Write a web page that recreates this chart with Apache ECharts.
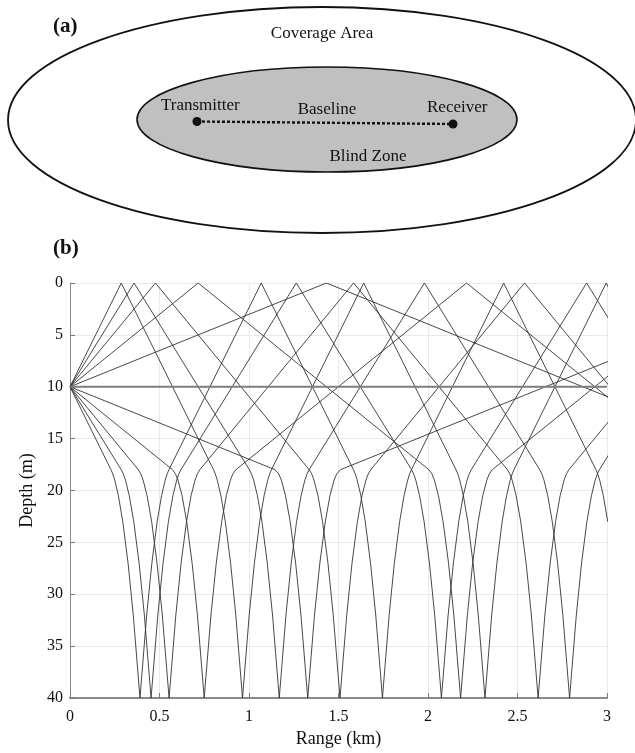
<!DOCTYPE html>
<html>
<head>
<meta charset="utf-8">
<title>Blind zone and ray paths</title>
<script src="https://cdn.jsdelivr.net/npm/echarts@6.0.0/dist/echarts.min.js"></script>
<style>
  html, body { margin: 0; padding: 0; background: #fff; }
  #chart { width: 635px; height: 753px; }
</style>
</head>
<body>
<div id="chart"></div>
<script>
// (b) ray paths, [range km, depth m], source at 10 m
// launch angles +-2.0, 1.6, 1.2, 0.8, 0.4 deg, surface / bottom reflections
const rayFlat = [[0, 10], [3, 10]];

const rayDown1 = [
  [0, 10], [0.2291, 18], [0.2389, 18.4], [0.2500, 19], [0.2703, 20.5], [0.2949, 23], [0.3244, 27], [0.3534, 32], [0.3909, 40],
  [0.4284, 32], [0.4574, 27], [0.4869, 23], [0.5115, 20.5], [0.5318, 19], [0.5429, 18.4], [0.5527, 18],
  [1.0682, 0], [1.5837, 18],
  [1.5935, 18.4], [1.6046, 19], [1.6249, 20.5], [1.6495, 23], [1.6790, 27], [1.7080, 32], [1.7455, 40],
  [1.7830, 32], [1.8120, 27], [1.8415, 23], [1.8661, 20.5], [1.8864, 19], [1.8975, 18.4], [1.9073, 18],
  [2.4228, 0], [2.9383, 18],
  [2.9481, 18.4], [2.9592, 19], [2.9795, 20.5], [3.0041, 23]
];
const rayDown2 = [
  [0, 10], [0.2864, 18], [0.2978, 18.4], [0.3099, 19], [0.3311, 20.5], [0.3563, 23], [0.3861, 27], [0.4154, 32], [0.4530, 40],
  [0.4906, 32], [0.5199, 27], [0.5497, 23], [0.5749, 20.5], [0.5961, 19], [0.6082, 18.4], [0.6196, 18],
  [1.2640, 0], [1.9084, 18],
  [1.9198, 18.4], [1.9319, 19], [1.9531, 20.5], [1.9783, 23], [2.0081, 27], [2.0374, 32], [2.0750, 40],
  [2.1126, 32], [2.1419, 27], [2.1717, 23], [2.1969, 20.5], [2.2181, 19], [2.2302, 18.4], [2.2416, 18],
  [2.8860, 0], [3.5304, 18]
];
const rayDown3 = [
  [0, 10], [0.3819, 18], [0.3955, 18.4], [0.4085, 19], [0.4306, 20.5], [0.4561, 23], [0.4863, 27], [0.5157, 32], [0.5535, 40],
  [0.5913, 32], [0.6207, 27], [0.6509, 23], [0.6764, 20.5], [0.6985, 19], [0.7115, 18.4], [0.7251, 18],
  [1.5844, 0], [2.4437, 18],
  [2.4573, 18.4], [2.4703, 19], [2.4924, 20.5], [2.5179, 23], [2.5481, 27], [2.5775, 32], [2.6153, 40],
  [2.6531, 32], [2.6825, 27], [2.7127, 23], [2.7382, 20.5], [2.7603, 19], [2.7733, 18.4], [2.7869, 18],
  [3.6462, 0]
];
const rayDown4 = [
  [0, 10], [0.5729, 18], [0.5894, 18.4], [0.6033, 19], [0.6260, 20.5], [0.6519, 23], [0.6823, 27], [0.7118, 32], [0.7497, 40],
  [0.7876, 32], [0.8171, 27], [0.8475, 23], [0.8734, 20.5], [0.8961, 19], [0.9100, 18.4], [0.9265, 18],
  [2.2156, 0], [3.5047, 18]
];
const rayDown5 = [
  [0, 10], [1.1460, 18], [1.1663, 18.4], [1.1808, 19], [1.2039, 20.5], [1.2300, 23], [1.2605, 27], [1.2902, 32], [1.3281, 40],
  [1.3660, 32], [1.3957, 27], [1.4262, 23], [1.4523, 20.5], [1.4754, 19], [1.4899, 18.4], [1.5102, 18],
  [4.0887, 0]
];

const rayUp1 = [
  [0, 10], [0.2864, 0], [0.8019, 18],
  [0.8117, 18.4], [0.8228, 19], [0.8431, 20.5], [0.8677, 23], [0.8972, 27], [0.9262, 32], [0.9637, 40],
  [1.0012, 32], [1.0302, 27], [1.0597, 23], [1.0843, 20.5], [1.1046, 19], [1.1157, 18.4], [1.1255, 18],
  [1.6410, 0], [2.1565, 18],
  [2.1663, 18.4], [2.1774, 19], [2.1977, 20.5], [2.2223, 23], [2.2518, 27], [2.2808, 32], [2.3183, 40],
  [2.3558, 32], [2.3848, 27], [2.4143, 23], [2.4389, 20.5], [2.4592, 19], [2.4703, 18.4], [2.4801, 18],
  [2.9956, 0], [3.5111, 18]
];
const rayUp2 = [
  [0, 10], [0.3580, 0], [1.0024, 18],
  [1.0138, 18.4], [1.0259, 19], [1.0471, 20.5], [1.0723, 23], [1.1021, 27], [1.1314, 32], [1.1690, 40],
  [1.2066, 32], [1.2359, 27], [1.2657, 23], [1.2909, 20.5], [1.3121, 19], [1.3242, 18.4], [1.3356, 18],
  [1.9800, 0], [2.6244, 18],
  [2.6358, 18.4], [2.6479, 19], [2.6691, 20.5], [2.6943, 23], [2.7241, 27], [2.7534, 32], [2.7910, 40],
  [2.8286, 32], [2.8579, 27], [2.8877, 23], [2.9129, 20.5], [2.9341, 19], [2.9462, 18.4], [2.9576, 18],
  [3.6020, 0]
];
const rayUp3 = [
  [0, 10], [0.4774, 0], [1.3367, 18],
  [1.3503, 18.4], [1.3633, 19], [1.3854, 20.5], [1.4109, 23], [1.4411, 27], [1.4705, 32], [1.5083, 40],
  [1.5461, 32], [1.5755, 27], [1.6057, 23], [1.6312, 20.5], [1.6533, 19], [1.6663, 18.4], [1.6799, 18],
  [2.5392, 0], [3.3985, 18]
];
const rayUp4 = [
  [0, 10], [0.7162, 0], [2.0053, 18],
  [2.0218, 18.4], [2.0357, 19], [2.0584, 20.5], [2.0843, 23], [2.1147, 27], [2.1442, 32], [2.1821, 40],
  [2.2200, 32], [2.2495, 27], [2.2799, 23], [2.3058, 20.5], [2.3285, 19], [2.3424, 18.4], [2.3589, 18],
  [3.6480, 0]
];
const rayUp5 = [[0, 10], [1.4325, 0], [4.0110, 18]];

const rays = [rayDown1, rayDown2, rayDown3, rayDown4, rayDown5, rayUp1, rayUp2, rayUp3, rayUp4, rayUp5];

// (a) schematic labels
const panelLabels = ['(a)', '(b)'];
const zoneLabels = ['Coverage Area', 'Blind Zone'];
const nodeLabels = ['Transmitter', 'Baseline', 'Receiver'];

const FONT = '"Liberation Serif", "Times New Roman", serif';
const INK = '#111';

const chart = echarts.init(document.getElementById('chart'), null, { renderer: 'canvas' });

function label(text, x, y, size, align, bold) {
  return {
    type: 'text', x: x, y: y, z: 10,
    style: {
      text: text, fill: INK, align: align, verticalAlign: 'middle',
      font: (bold ? 'bold ' : '') + size + 'px ' + FONT
    }
  };
}

const raySeries = rays.map(r => ({
  type: 'line',
  data: r,
  showSymbol: false,
  symbol: 'none',
  clip: true,
  silent: true,
  lineStyle: { color: '#333', width: 0.9 }
}));

raySeries.push({
  type: 'line',
  data: rayFlat,
  showSymbol: false,
  symbol: 'none',
  silent: true,
  z: 3,
  lineStyle: { color: '#7f7f7f', width: 2 }
});

chart.setOption({
  animation: false,
  backgroundColor: '#fff',
  grid: { left: 70, top: 283, right: 28, bottom: 48, containLabel: false },
  xAxis: {
    type: 'value',
    min: 0, max: 3, interval: 0.5,
    name: 'Range (km)',
    nameLocation: 'middle',
    nameGap: 32,
    nameTextStyle: { fontFamily: FONT, fontSize: 18, color: INK },
    axisLine: { show: true, onZero: false, lineStyle: { color: '#8a8a8a', width: 2 } },
    axisTick: { show: true, inside: true, length: 5, lineStyle: { color: '#777' } },
    axisLabel: { fontFamily: FONT, fontSize: 16, color: INK, margin: 11 },
    splitLine: { show: true, lineStyle: { color: '#e9e9e9', width: 1 } }
  },
  yAxis: {
    type: 'value',
    inverse: true,
    min: 0, max: 40, interval: 5,
    name: 'Depth (m)',
    nameLocation: 'middle',
    nameGap: 25,
    nameTextStyle: { fontFamily: FONT, fontSize: 18, color: INK },
    axisLine: { show: true, onZero: false, lineStyle: { color: '#8a8a8a', width: 1 } },
    axisTick: { show: true, inside: true, length: 5, lineStyle: { color: '#777' } },
    axisLabel: { fontFamily: FONT, fontSize: 16, color: INK, margin: 7 },
    splitLine: { show: true, lineStyle: { color: '#e9e9e9', width: 1 } }
  },
  series: raySeries,
  graphic: [
    {
      type: 'ellipse',
      shape: { cx: 322, cy: 120, rx: 314, ry: 113 },
      style: { fill: 'none', stroke: INK, lineWidth: 1.8 }
    },
    {
      type: 'ellipse',
      shape: { cx: 327, cy: 119.5, rx: 190, ry: 52.5 },
      style: { fill: '#c0c0c0', stroke: INK, lineWidth: 1.6 }
    },
    {
      type: 'line',
      shape: { x1: 197, y1: 121.5, x2: 453, y2: 124 },
      style: { stroke: INK, lineWidth: 2.4, lineDash: [3, 2] }
    },
    { type: 'circle', shape: { cx: 197, cy: 121.5, r: 4.5 }, style: { fill: INK } },
    { type: 'circle', shape: { cx: 453, cy: 124, r: 4.5 }, style: { fill: INK } },
    label(panelLabels[0], 53, 27, 21, 'left', true),
    label(zoneLabels[0], 322, 34, 17, 'center'),
    label(nodeLabels[0], 161, 106, 17, 'left'),
    label(nodeLabels[1], 327, 110, 17, 'center'),
    label(nodeLabels[2], 427, 108, 17, 'left'),
    label(zoneLabels[1], 368, 157, 17, 'center'),
    label(panelLabels[1], 53, 249, 21, 'left', true)
  ]
});
</script>
</body>
</html>
